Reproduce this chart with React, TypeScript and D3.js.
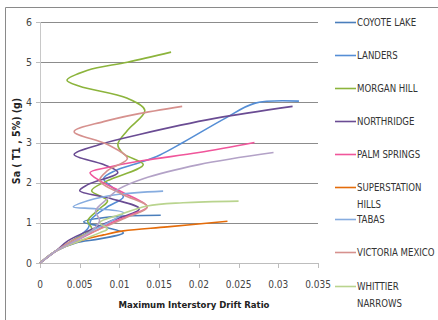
import * as d3 from 'd3';

// [drift ratio, Sa(g)] pairs
const coyoteLake: [number, number][] = [
  [0, 0], [0.002, 0.3], [0.0045, 0.5], [0.0075, 0.6], [0.0105, 0.75], [0.008, 0.9],
  [0.0055, 1.02], [0.009, 1.15], [0.0152, 1.19],
];
const landers: [number, number][] = [
  [0, 0], [0.002, 0.3], [0.004, 0.55], [0.006, 0.85], [0.0065, 1.1], [0.0085, 1.4],
  [0.0105, 1.65], [0.009, 1.9], [0.008, 2.1], [0.0095, 2.3], [0.0126, 2.5],
  [0.0151, 2.69], [0.018, 3.0], [0.0233, 3.6], [0.0271, 3.98], [0.0326, 4.03],
];
const morganHill: [number, number][] = [
  [0, 0], [0.002, 0.3], [0.004, 0.55], [0.0065, 0.85], [0.006, 1.05], [0.0075, 1.35],
  [0.0085, 1.55], [0.0065, 1.8], [0.0085, 2.05], [0.013, 2.45], [0.0105, 2.72],
  [0.0098, 2.95], [0.011, 3.3], [0.0132, 3.8], [0.011, 4.1], [0.005, 4.4],
  [0.0034, 4.55], [0.006, 4.8], [0.011, 5.0], [0.0165, 5.25],
];
const northridge: [number, number][] = [
  [0, 0], [0.002, 0.3], [0.0035, 0.55], [0.0055, 0.75], [0.009, 1.05], [0.0125, 1.35],
  [0.009, 1.6], [0.005, 1.8], [0.006, 1.95], [0.0098, 2.25], [0.008, 2.45],
  [0.0043, 2.7], [0.0075, 2.95], [0.0125, 3.2], [0.022, 3.6], [0.0318, 3.9],
];
const palmSprings: [number, number][] = [
  [0, 0], [0.002, 0.3], [0.0045, 0.55], [0.007, 0.8], [0.009, 1.0], [0.0115, 1.2],
  [0.0135, 1.4], [0.0105, 1.75], [0.0075, 2.05], [0.0063, 2.25], [0.0085, 2.38],
  [0.013, 2.55], [0.02, 2.75], [0.027, 3.0],
];
const superstationHills: [number, number][] = [
  [0, 0], [0.002, 0.3], [0.005, 0.55], [0.008, 0.7], [0.0105, 0.8], [0.016, 0.9],
  [0.0236, 1.04],
];
const tabas: [number, number][] = [
  [0, 0], [0.002, 0.3], [0.0045, 0.55], [0.0065, 0.8], [0.009, 1.05], [0.0105, 1.25],
  [0.007, 1.35], [0.0042, 1.4], [0.006, 1.55], [0.0095, 1.7], [0.0155, 1.79],
];
const victoriaMexico: [number, number][] = [
  [0, 0], [0.002, 0.3], [0.004, 0.55], [0.007, 0.8], [0.0105, 1.1], [0.0135, 1.4],
  [0.0105, 1.7], [0.0075, 2.05], [0.0085, 2.3], [0.011, 2.6], [0.0085, 2.95],
  [0.0043, 3.27], [0.008, 3.52], [0.012, 3.7], [0.0179, 3.9],
];
const whittierNarrows: [number, number][] = [
  [0, 0], [0.002, 0.3], [0.005, 0.55], [0.0075, 0.75], [0.0085, 0.85], [0.0075, 1.0],
  [0.01, 1.2], [0.0135, 1.42], [0.018, 1.5], [0.025, 1.54],
];
// tenth record, its legend entry is cut off in the original
const extraRecord: [number, number][] = [
  [0, 0], [0.002, 0.3], [0.0045, 0.55], [0.0065, 0.8], [0.0075, 1.05], [0.007, 1.3],
  [0.0085, 1.6], [0.01, 1.85], [0.013, 2.1], [0.02, 2.45], [0.0294, 2.75],
];

const seriesNames = [
  'COYOTE LAKE', 'LANDERS', 'MORGAN HILL', 'NORTHRIDGE', 'PALM SPRINGS',
  'SUPERSTATION HILLS', 'TABAS', 'VICTORIA MEXICO', 'WHITTIER NARROWS', '',
];
const seriesData = [
  coyoteLake, landers, morganHill, northridge, palmSprings,
  superstationHills, tabas, victoriaMexico, whittierNarrows, extraRecord,
];
const seriesColors = [
  '#4a7ebb', '#558ed5', '#8cb43c', '#6a4c93', '#f0569b',
  '#e46c0a', '#86acdf', '#d6918e', '#b9d48e', '#b3a2c7',
];
const xTicks = [0, 0.005, 0.01, 0.015, 0.02, 0.025, 0.03, 0.035];
const yTicks = [0, 1, 2, 3, 4, 5, 6];

const W = 438;
const H = 320;
const narrow = "'Liberation Sans Narrow', 'Arial Narrow', 'DejaVu Sans Condensed', sans-serif";

export default function App() {
  const x = d3.scaleLinear().domain([0, 0.035]).range([40, 318]);
  const y = d3.scaleLinear().domain([0, 6]).range([263, 22]);
  const line = d3.line<[number, number]>()
    .x(d => x(d[0]))
    .y(d => y(d[1]))
    .curve(d3.curveCatmullRom.alpha(0.5));

  const legendY = [22, 55, 88, 121, 154, 187, 219, 252, 286];

  return (
    <svg width={W} height={H} style={{ position: 'absolute', left: 0, top: 0, background: '#fff' }}>
      <rect x={0} y={0} width={W} height={H} fill="#fff" />
      {/* outer frame */}
      <line x1={5.5} x2={W} y1={7.5} y2={7.5} stroke="#8a8a8a" />
      <line x1={5.5} x2={5.5} y1={7.5} y2={H} stroke="#8a8a8a" />

      {/* gridlines */}
      {yTicks.slice(1).map(t => (
        <line key={t} x1={x(0)} x2={x(0.035)} y1={Math.round(y(t)) + 0.5} y2={Math.round(y(t)) + 0.5}
          stroke="#8c8c8c" strokeWidth={1.2} />
      ))}
      {/* axes */}
      <line x1={40.5} x2={40.5} y1={y(6)} y2={y(0)} stroke="#c8c8c8" />
      <line x1={x(0)} x2={x(0.035)} y1={263.5} y2={263.5} stroke="#bdbdbd" />
      {yTicks.map(t => (
        <line key={'yt' + t} x1={36} x2={40} y1={Math.round(y(t)) + 0.5} y2={Math.round(y(t)) + 0.5} stroke="#bdbdbd" />
      ))}
      {xTicks.map(t => (
        <line key={'xt' + t} x1={Math.round(x(t)) + 0.5} x2={Math.round(x(t)) + 0.5} y1={263} y2={268} stroke="#bdbdbd" />
      ))}
      {yTicks.map(t => (
        <text key={'yl' + t} x={32} y={y(t) + 3.5} textAnchor="end" fontSize={10.5}
          fontFamily={narrow} fill="#444">{t}</text>
      ))}
      {xTicks.map(t => (
        <text key={'xl' + t} x={x(t)} y={288} textAnchor="middle" fontSize={10}
          fontFamily={narrow} fill="#444">{t === 0 ? '0' : String(t)}</text>
      ))}

      {/* series */}
      {seriesData.map((s, i) => (
        <path key={'s' + i} d={line(s) || ''} fill="none" stroke={seriesColors[i]} strokeWidth={1.6} />
      ))}

      {/* axis titles */}
      <text x={194} y={308} textAnchor="middle" fontSize={9.5} fontWeight="bold"
        fontFamily={narrow} fill="#222">Maximum Interstory Drift Ratio</text>
      <text transform="translate(20,141) rotate(-90)" textAnchor="middle" fontSize={10.5} fontWeight="bold"
        fontFamily={narrow} fill="#222">Sa ( T1 , 5%) (g)</text>

      {/* legend */}
      {legendY.map((ly, i) => {
        const words = seriesNames[i].split(' ');
        const twoLines = seriesNames[i] === 'SUPERSTATION HILLS' || seriesNames[i] === 'WHITTIER NARROWS';
        return (
          <g key={'lg' + i}>
            <line x1={335} x2={356} y1={ly + 0.5} y2={ly + 0.5} stroke={seriesColors[i]} strokeWidth={1.6} />
            <g transform={`translate(357,${ly + 4}) scale(0.87,1)`}>
              <text x={0} y={0} fontSize={11} fontFamily={narrow} fill="#333">
                {twoLines ? words[0] : seriesNames[i]}
              </text>
              {twoLines && (
                <text x={0} y={17} fontSize={11} fontFamily={narrow} fill="#333">{words[1]}</text>
              )}
            </g>
          </g>
        );
      })}
    </svg>
  );
}
